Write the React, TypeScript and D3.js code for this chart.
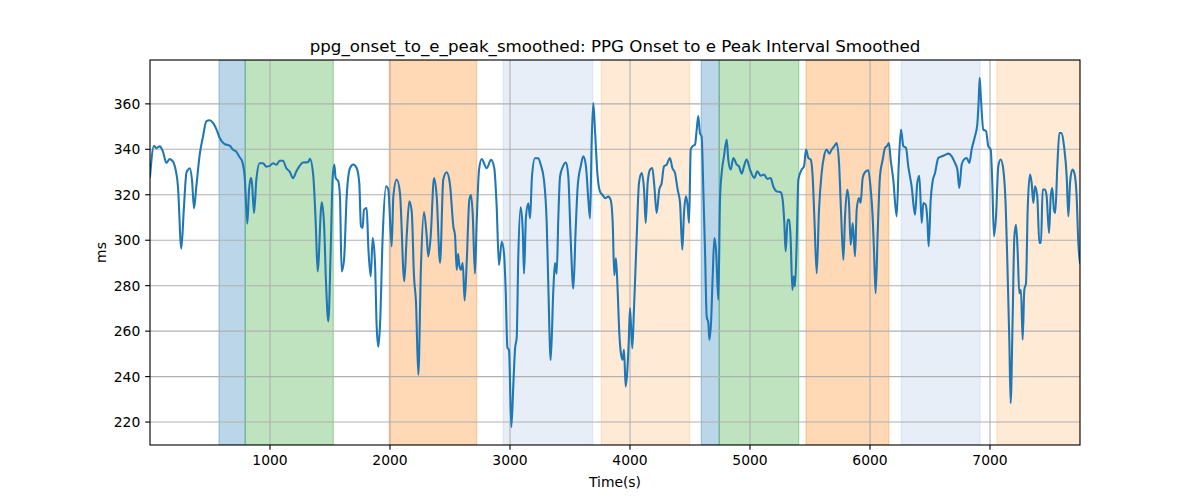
import React from "react";
import * as d3 from "d3";

const times: number[] = [0,33,53,81,108,136,164,192,206,233,261,283,303,317,331,350,367,386,414,442,469,497,525,553,581,622,664,692,719,747,769,789,811,825,842,850,867,886,914,942,969,997,1025,1053,1081,1108,1136,1164,1192,1219,1247,1275,1317,
1333,1361,1381,1397,1431,1450,1467,1486,1506,1522,1536,1547,1569,1583,1597,1617,1639,1667,1694,1722,1744,1758,1772,1783,1806,1819,1839,1856,1875,1889,1903,1917,1939,1967,1986,2014,2028,2056,2083,2119,2139,2161,2181,2200,2217,2236,2258,2283,2306,2319,2339,2367,2389,2417,2444,2472,2500,
2528,2542,2556,2567,2578,2592,2606,2622,2639,2661,2675,2689,2708,2722,2742,2764,2806,2842,2869,2889,2908,2931,2950,2964,2978,2992,3011,3028,3042,3056,3069,3089,3106,3117,3133,3153,3167,3183,3208,3236,3256,3283,3306,3319,3339,3361,3375,3389,3403,3417,3439,3467,3486,3506,3528,3547,3564,3589,3611,3633,3653,3667,3681,3694,3708,3728,3750,3772,3792,3819,3839,3856,3869,3883,3897,3911,3925,3939,3950,3964,3978,3989,4000,4019,4033,4056,4075,4097,4117,4131,4147,4167,4186,4203,4222,4244,4264,4283,4306,4333,4353,4375,4397,4417,4436,4450,4467,4481,4492,4506,4522,4542,4556,4569,4583,4597,4611,4625,4639,4653,4661,4675,4689,4703,4717,4736,4750,4764,4783,4806,4819,4839,4861,4889,4908,4931,4950,4972,5000,5036,5061,5089,5117,5144,5172,5194,5222,5256,5272,5286,5297,5314,5328,5339,5353,5364,5375,5389,5403,5431,5450,5467,5486,5506,5522,5536,5556,5575,5597,5617,5639,5661,5681,5703,5722,5742,5758,5778,5792,5811,5825,5839,5856,5875,5889,5908,5922,5939,5958,5986,6006,6022,6033,6047,6064,6083,6106,6125,6144,6158,6172,6194,6222,6239,6258,6278,6300,6319,6347,6375,6394,6411,6431,6444,6464,6478,6489,6506,6522,6542,6569,6597,6625,6653,6681,6708,6728,6744,6764,6783,6806,6828,6847,6875,6894,6906,6914,6925,6944,6967,6986,7006,7019,7033,7050,7069,7089,7111,7131,7144,7161,7172,7189,7203,7217,7231,7244,7258,7272,7286,7300,7314,7333,7347,7361,7375,7394,7411,7425,7439,7458,7472,7492,7506,7519,7533,7544,7561,7578,7597,7617,7639,7653,7667,7686,7703,7722,7736,7750];

const values: number[] = [328,341.6,340.5,341.3,339,334,335.7,334.6,332.7,323.6,296.3,314.7,329.5,331,331.7,326.5,314,323.6,337.6,345.7,352.3,352.8,351.6,348.9,345,342.3,341.6,339.8,339,336.5,334.6,328,307.3,322,327.5,325,312,326.5,333.9,333.9,332.4,332.7,333.9,333.2,335,335,331.7,330.2,327.3,330.2,332.7,334.2,334.3,
335.8,328.1,307.6,286.3,316.7,307.6,281.1,264.3,295.8,327.4,333.3,327.4,326,319.3,286.3,291.4,319.3,331.8,333.3,331.8,325.2,306.1,305.4,313.4,314.2,297.3,284.1,301,290,262,253.2,262.8,301.7,323.7,322.3,297.3,319.3,326.7,320.8,281.9,301.7,317.1,312.7,284.1,272.3,240.8,288.5,312.4,301.7,292.9,301.7,327.4,319.3,290,326.7,329.9,324.5,
306,302,287,294,289,287,290,273.5,290,317.7,319.9,311.8,285.3,307.4,331,335.7,331.7,335.4,331.7,314.8,289,299.3,294.2,278,252.9,251.5,217.7,236.7,252.2,257.3,292.7,314.5,304.5,285.3,310.4,316.3,309.6,328,336.1,336.1,333.2,326.6,307.4,280.9,247.3,278,290,285.3,310.4,328,332.2,334.2,328,300.1,278.7,304.5,323.6,332.5,336.9,332.5,317.7,309.6,344.2,360.4,348.7,329.5,321.4,319.9,318.5,319.2,317.7,307.4,284.6,292,278,259,250,247.4,251.8,235.6,243,254.7,270.1,252.5,269.4,301.7,325.2,329.6,322.3,307.6,325.2,331.1,331.8,323.7,312,322.3,325.2,332.5,333.3,336.2,331.8,329.6,322.3,316.4,295.8,312,319.3,314.9,307.6,339.9,341.4,342.1,348.7,354.6,347.2,345.5,322.3,295.8,266.5,263.5,256.2,263.5,284.1,301,295.8,273.8,317.9,329.6,336.9,344.3,335.5,331.1,336.2,333.3,332.5,329.3,332.5,335.5,331.1,327.4,330.3,328.4,328.9,327,327.4,323.7,321.5,321.1,317.9,307.6,295.1,309,309,300.2,278.2,284.1,279.7,298.8,326.7,331.1,332.5,339.9,336.2,335.5,328.1,310.5,285.5,313.4,329.6,336.9,339.9,338.1,339.9,341.4,342.8,334,313.4,291.4,310.5,322.3,316.4,298,307.6,292.9,313.4,318.6,316.4,327.4,329.9,330.8,322.3,310.5,295.8,276.7,303.2,328.1,335.5,340.6,341.6,342.8,335.5,326.7,310.5,332.5,348.7,341.4,340.6,332.5,323.7,311.2,325.2,328.4,307.6,316.4,315.7,309,297.3,317.9,325.9,329.6,336.2,336.9,337.5,338.1,336.9,334,331.1,323,333.3,335.5,336.2,334,339.9,345.8,350.9,361.9,371.5,361.9,348.7,348,341.4,339.9,325.2,301.7,310.5,332.5,335.5,331.1,314.9,291.4,256.2,228.3,266.5,301.7,306.8,294.4,276.7,278.2,256.2,278.2,281.1,313.4,328.9,325.2,316.4,323.7,319.3,298.8,298.8,322.3,322.3,319.3,303.2,319.3,323,313.4,312,332.5,347.2,347.2,341.4,328.1,310.5,325.2,331.1,329.6,319.3,298.8,290];

const spanStarts: number[] = [575, 794, 1994, 2944, 3761, 4594, 4744, 5467, 6261, 7058];
const spanEnds: number[] = [794, 1528, 2722, 3689, 4497, 4744, 5406, 6156, 6917, 7750];
const spanColors: string[] = ["#1f77b4", "#2ca02c", "#ff7f0e", "#aec7e8", "#ffbb78", "#1f77b4", "#2ca02c", "#ff7f0e", "#aec7e8", "#ffbb78"];

const xTicks: number[] = [1000, 2000, 3000, 4000, 5000, 6000, 7000];
const yTicks: number[] = [220, 240, 260, 280, 300, 320, 340, 360];

const title = "ppg_onset_to_e_peak_smoothed: PPG Onset to e Peak Interval Smoothed";
const xLabel = "Time(s)";
const yLabel = "ms";

export default function App() {
  const W = 1200, H = 500;
  const left = 150, right = 1080, top = 60, bottom = 445;
  const x = d3.scaleLinear().domain([0, 7750]).range([left, right]);
  const y = d3.scaleLinear().domain([209.9, 379.3]).range([bottom, top]);
  const pts: [number, number][] = times.map((t, i) => [t, values[i]]);
  const line = d3.line<[number, number]>()
    .x(d => x(d[0]))
    .y(d => y(d[1]))
    .curve(d3.curveMonotoneX);
  const font = "'DejaVu Sans', sans-serif";
  const tickLen = 4.86;
  const fs = 13.89;
  return (
    <svg width={W} height={H} style={{ position: "absolute", left: 0, top: 0, background: "#fff" }} fontFamily={font}>
      <rect x={0} y={0} width={W} height={H} fill="#fff" />
      <defs>
        <clipPath id="plotclip">
          <rect x={left} y={top} width={right - left} height={bottom - top} />
        </clipPath>
      </defs>
      <g clipPath="url(#plotclip)">
        {spanStarts.map((s, i) => (
          <rect key={i} x={x(s)} y={top} width={x(spanEnds[i]) - x(s)} height={bottom - top}
            fill={spanColors[i]} fillOpacity={0.3} stroke={spanColors[i]} strokeOpacity={0.3} strokeWidth={1.39} />
        ))}
        {xTicks.map(t => (
          <line key={"gx" + t} x1={x(t)} x2={x(t)} y1={top} y2={bottom} stroke="#b0b0b0" strokeWidth={1.11} />
        ))}
        {yTicks.map(t => (
          <line key={"gy" + t} x1={left} x2={right} y1={y(t)} y2={y(t)} stroke="#b0b0b0" strokeWidth={1.11} />
        ))}
        <path d={line(pts) || ""} fill="none" stroke="#1f77b4" strokeWidth={2.08} strokeLinejoin="round" strokeLinecap="square" />
      </g>
      <rect x={left} y={top} width={right - left} height={bottom - top} fill="none" stroke="#000" strokeWidth={1.11} />
      {xTicks.map(t => (
        <g key={"xt" + t}>
          <line x1={x(t)} x2={x(t)} y1={bottom} y2={bottom + tickLen} stroke="#000" strokeWidth={1.11} />
          <text x={x(t)} y={bottom + 2 * tickLen + 10.2} textAnchor="middle" fontSize={fs} fill="#000">{t}</text>
        </g>
      ))}
      {yTicks.map(t => (
        <g key={"yt" + t}>
          <line x1={left - tickLen} x2={left} y1={y(t)} y2={y(t)} stroke="#000" strokeWidth={1.11} />
          <text x={left - 2 * tickLen} y={y(t)} dy="0.36em" textAnchor="end" fontSize={fs} fill="#000">{t}</text>
        </g>
      ))}
      <text x={(left + right) / 2} y={51.7} textAnchor="middle" fontSize={16.67} fill="#000">{title}</text>
      <text x={(left + right) / 2} y={486.5} textAnchor="middle" fontSize={fs} fill="#000">{xLabel}</text>
      <text transform={`translate(106, ${(top + bottom) / 2}) rotate(-90)`} textAnchor="middle" fontSize={fs} fill="#000">{yLabel}</text>
    </svg>
  );
}
